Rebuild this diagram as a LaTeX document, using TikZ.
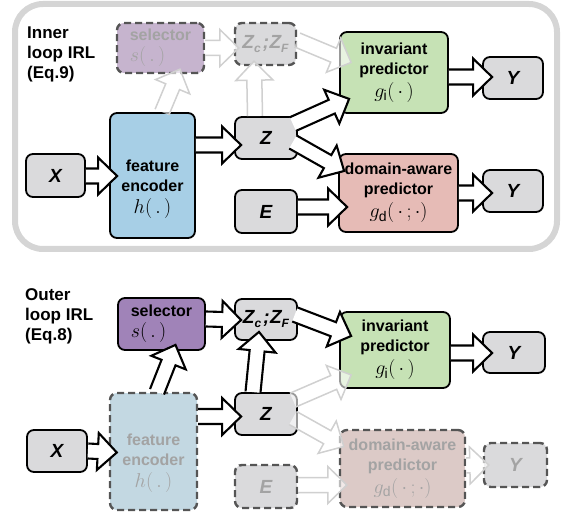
\documentclass[tikz,border=0pt]{standalone}
\usepackage{fix-cm}
\usepackage{fontspec}
\setmainfont{Liberation Sans}
\usetikzlibrary{calc}
\definecolor{boxgray}{HTML}{DADADC}
\definecolor{encblue}{HTML}{A7CFE6}
\definecolor{ghostblue}{HTML}{C3D8E2}
\definecolor{invgreen}{HTML}{C6E2B5}
\definecolor{dapink}{HTML}{E6BBB6}
\definecolor{ghostpink}{HTML}{DCCAC7}
\definecolor{selpurple}{HTML}{A083B8}
\definecolor{ghostpurple}{HTML}{C6B4CE}
\definecolor{ghosttext}{HTML}{A3A3A3}
\definecolor{dashgray}{HTML}{555555}
\definecolor{framegray}{HTML}{D5D5D5}
\definecolor{ghostline}{HTML}{D0D0D0}

\newcommand\zczf{{\fontsize{19}{19}\selectfont Z\raisebox{-4pt}{\fontsize{12}{12}\selectfont c}\kern2pt;\kern0.5pt Z\raisebox{-4pt}{\fontsize{12}{12}\selectfont F}}}
\newcommand\mathbig[1]{{\fontsize{20}{20}\selectfont #1}}
\def\fahead{19pt}
\def\fashaft{7.5pt}
\def\fawing{18.5pt}
\newcommand\fatarr[3][]{%
  \coordinate (fS) at #2;
  \coordinate (fT) at #3;
  \coordinate (fH) at ($(fT)!\fahead!(fS)$);
  \filldraw[fatarrow,#1] ($(fS)!\fashaft!90:(fT)$) -- ($(fH)!\fashaft!90:(fT)$) -- ($(fH)!\fawing!90:(fT)$) -- (fT) -- ($(fH)!\fawing!-90:(fT)$) -- ($(fH)!\fashaft!-90:(fT)$) -- ($(fS)!\fashaft!-90:(fT)$);
}

\tikzset{
  blk/.style={draw=black, line width=1.8pt, rounded corners=7pt, inner sep=0pt, align=center, font=\fontsize{16}{20}\selectfont\bfseries},
  dsh/.style={draw=dashgray, dash pattern=on 7pt off 4pt, line width=2.4pt, text=ghosttext},
  var/.style={font=\fontsize{19}{19}\selectfont\bfseries\itshape},
  lbl/.style={align=left, anchor=north west, inner sep=0pt, font=\fontsize{17}{20}\selectfont\bfseries},
  txt/.style={align=center, inner sep=0pt, font=\fontsize{16}{20}\selectfont\bfseries},
  fatarrow/.style={fill=white, draw=black, line width=2.1pt, line join=miter, miter limit=10},
  ghostarrow/.style={fill=white, fill opacity=0.6, draw=ghostline, draw opacity=1, line width=1.5pt},
}

\begin{document}
\begin{tikzpicture}[x=1pt, y=-1pt]
\useasboundingbox (0,0) rectangle (563,516);
\draw[framegray, line width=6pt, rounded corners=28pt] (15,4) rectangle (557,249);

% ---------------- top panel ----------------
\node[lbl] (labT) at (27,27) {Inner\\loop IRL\\(Eq.9)};
\node[blk, dsh, fill=ghostpurple, align=left, minimum width=87, minimum height=50] (selT) at (160.5,48) {selector\\[1pt]\mathbig{$s(\,.\,)$}};
\node[blk, dsh, fill=boxgray, var, minimum width=61, minimum height=42] (zcT) at (265.5,44) {\zczf};
\node[blk, fill=encblue, minimum width=85, minimum height=125] (encT) at (152.5,175.5) {};
\node[txt] (encTt) at (152.5,189) {feature\\encoder\\[2pt]\mathbig{$h(\,.\,)$}};
\node[blk, fill=boxgray, var, minimum width=59, minimum height=43] (XT) at (55.5,175.5) {X};
\node[blk, fill=boxgray, var, minimum width=62, minimum height=42] (ZT) at (266,138) {Z};
\node[blk, fill=boxgray, var, minimum width=62, minimum height=43] (ET) at (266,211.5) {E};
\node[blk, fill=invgreen, minimum width=108, minimum height=81] (invT) at (394,72.5) {invariant\\predictor\\[3pt]\mathbig{$g_{\mathrm{i}}(\,\cdot\,)$}};
\node[blk, fill=boxgray, var, minimum width=60, minimum height=42] (YT1) at (513,78) {Y};
\node[blk, fill=dapink, minimum width=119, minimum height=78] (daT) at (398.5,193) {domain-aware\\predictor\\[3pt]\mathbig{$g_{\mathrm{d}}(\,\cdot\,;\cdot)$}};
\node[blk, fill=boxgray, var, minimum width=60, minimum height=42] (YT2) at (513,191) {Y};

\fatarr[ghostarrow]{($(encT.north)+(9.5,0)$)}{($(selT.south)+(19.5,-5)$)}
\fatarr[ghostarrow]{($(ZT.north)+(-11,0)$)}{($(zcT.south)+(-11.5,-5)$)}
\fatarr[ghostarrow]{(selT.east)}{($(zcT.west)+(5,4)$)}
\fatarr[ghostarrow]{($(zcT.east)+(0,-4)$)}{($(invT.west)+(12,-10)$)}

\fatarr{($(XT.east)+(0,0.5)$)}{($(encT.west)+(8,0.5)$)}
\fatarr{($(encT.east)+(0,-30.5)$)}{($(ZT.west)+(7,7)$)}
\fatarr{($(ZT.north east)+(-5,8)$)}{($(invT.south west)+(10,-15)$)}
\fatarr{($(ZT.east)+(-5,4)$)}{($(daT.west)+(6,-22)$)}
\fatarr{($(ET.east)+(0,-4.5)$)}{($(daT.west)+(9,14)$)}
\fatarr{($(invT.east)+(0,4.5)$)}{($(YT1.west)+(10,-1)$)}
\fatarr{(daT.east)}{($(YT2.west)+(10,2)$)}

% ---------------- bottom panel ----------------
\node[lbl] (labB) at (25,288) {Outer\\loop IRL\\(Eq.8)};
\node[blk, fill=selpurple, align=left, minimum width=87, minimum height=52] (selB) at (161.5,324) {selector\\[1pt]\mathbig{$s(\,.\,)$}};
\node[blk, fill=boxgray, var, minimum width=62, minimum height=41] (zcB) at (266,319.5) {\zczf};
\node[blk, dsh, fill=ghostblue, minimum width=87, minimum height=117] (encB) at (153.5,451.5) {};
\node[txt, text=ghosttext] (encBt) at (153.5,463) {feature\\encoder\\[2pt]\mathbig{$h(\,.\,)$}};
\node[blk, fill=boxgray, var, minimum width=60, minimum height=42] (XB) at (57,451) {X};
\node[blk, fill=boxgray, var, minimum width=62, minimum height=42] (ZB) at (266,414) {Z};
\node[blk, dsh, fill=boxgray, var, minimum width=62, minimum height=43] (EB) at (266,486.5) {E};
\node[blk, fill=invgreen, minimum width=110, minimum height=76] (invB) at (395,350) {invariant\\predictor\\[3pt]\mathbig{$g_{\mathrm{i}}(\,\cdot\,)$}};
\node[blk, fill=boxgray, var, minimum width=62, minimum height=41] (YB1) at (514,352.5) {Y};
\node[blk, dsh, fill=ghostpink, minimum width=125, minimum height=77] (daB) at (402.5,468.5) {domain-aware\\predictor\\[3pt]\mathbig{$g_{\mathrm{d}}(\,\cdot\,;\cdot)$}};
\node[blk, dsh, fill=boxgray, var, minimum width=63, minimum height=44] (YB2) at (515.5,465) {Y};

\fatarr[ghostarrow]{($(ZB.north east)+(-5,8)$)}{($(invB.south west)+(12,-14)$)}
\fatarr[ghostarrow]{($(ZB.east)+(-5,4)$)}{($(daB.west)+(5,-22)$)}
\fatarr[ghostarrow]{($(EB.east)+(0,-1.5)$)}{($(daB.west)+(8,16.5)$)}
\fatarr[ghostarrow]{($(daB.east)+(0,-3)$)}{($(YB2.west)+(6,0)$)}

\fatarr{(XB.east)}{($(encB.west)+(8,1)$)}
\fatarr{($(encB.east)+(0,-35)$)}{($(ZB.west)+(7,2.5)$)}
\fatarr{($(encB.north)+(3.5,0)$)}{($(selB.south)+(14,-6)$)}
\fatarr{($(ZB.north)+(-13,0)$)}{($(zcB.south)+(-7,-9)$)}
\fatarr{($(selB.east)+(0,-5)$)}{($(zcB.west)+(7,0.5)$)}
\fatarr{($(zcB.east)+(-3,-5)$)}{($(invB.west)+(12,-14)$)}
\fatarr{($(invB.east)+(0,3)$)}{($(YB1.west)+(10,0.5)$)}
\end{tikzpicture}
\end{document}
